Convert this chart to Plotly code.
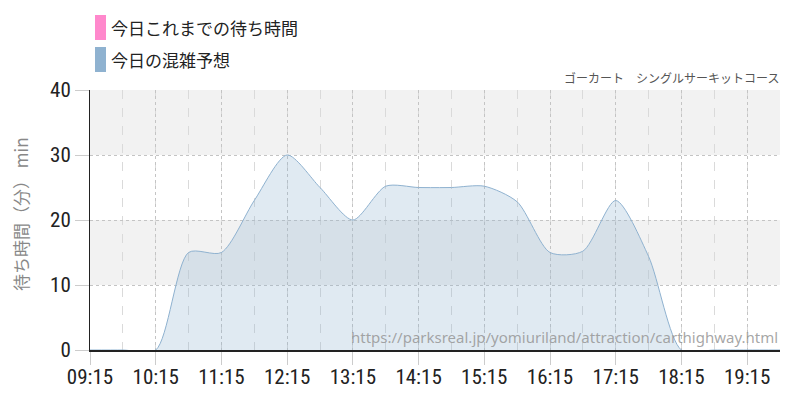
import plotly.graph_objects as go

# ---- data ----
times = ["09:15", "09:45", "10:15", "10:45", "11:15", "11:45", "12:15", "12:45",
         "13:15", "13:45", "14:15", "14:45", "15:15", "15:45", "16:15", "16:45",
         "17:15", "17:45", "18:15", "18:45", "19:15", "19:45"]
forecast = [0, 0, 0, 15, 15, 23, 30, 25, 20, 25.2, 25, 25, 25.2, 22.8, 15, 15.2,
            23, 14.4, 0, 0, 0, 0]
actual_times = []
actual = []
tick_labels = ["09:15", "10:15", "11:15", "12:15", "13:15", "14:15", "15:15",
               "16:15", "17:15", "18:15", "19:15"]
y_ticks = [0, 10, 20, 30, 40]
legend_names = ["今日これまでの待ち時間", "今日の混雑予想"]
title_text = "ゴーカート　シングルサーキットコース"
y_title = "待ち時間（分） min"
url_text = "https://parksreal.jp/yomiuriland/attraction/carthighway.html"

DAY = "2024-01-01 "
x_fc = [DAY + t for t in times]
x_act = [DAY + t for t in actual_times]
tickvals = [DAY + t for t in tick_labels]

PINK = "#FF88CC"
BLUE = "#8FB2D0"
TICKFONT = "Roboto Condensed, Liberation Sans Narrow, DejaVu Sans Condensed, Roboto, sans-serif"
CJK = "Noto Sans CJK JP, Noto Sans, sans-serif"

L, R, T, B = 90, 20, 90, 50
W, H = 800, 400
pw, ph = W - L - R, H - T - B


def px_x(px):
    return (px - L) / pw


def px_y(py):
    return (H - B - py) / ph


fig = go.Figure()
fig.add_trace(go.Scatter(
    x=x_fc, y=forecast, mode="lines", name=legend_names[1],
    line=dict(color=BLUE, width=1, shape="spline", smoothing=0.75),
    fill="tozeroy", fillcolor="rgba(143,178,208,0.28)", showlegend=False,
    hoverinfo="x+y", cliponaxis=False))
fig.add_trace(go.Scatter(
    x=x_act, y=actual, mode="lines", name=legend_names[0],
    line=dict(color=PINK, width=2, shape="spline"), showlegend=False))

# alternating bands
for y0, y1 in [(10, 20), (30, 40)]:
    fig.add_shape(type="rect", xref="paper", yref="y", x0=0, x1=1, y0=y0, y1=y1,
                  fillcolor="#F2F2F2", line=dict(width=0), layer="below")

# custom legend
legend_items = [(legend_names[0], PINK, 15, 40), (legend_names[1], BLUE, 47, 72)]
for name, col, ytop, ybot in legend_items:
    fig.add_shape(type="rect", xref="paper", yref="paper",
                  x0=px_x(95), x1=px_x(106), y0=px_y(ybot), y1=px_y(ytop),
                  fillcolor=col, line=dict(width=0))
    fig.add_annotation(xref="paper", yref="paper", x=px_x(109), y=px_y((ytop + ybot) / 2),
                       text=name, showarrow=False, xanchor="left", yanchor="middle",
                       font=dict(family=CJK, size=17, color="#222"))

fig.add_annotation(xref="paper", yref="paper", x=px_x(781), y=px_y(78), text=title_text,
                   showarrow=False, xanchor="right", yanchor="middle",
                   font=dict(family=CJK, size=12, color="#555"))
fig.add_annotation(xref="paper", yref="paper", x=px_x(780), y=px_y(337), text=url_text,
                   showarrow=False, xanchor="right", yanchor="middle",
                   font=dict(family="Noto Sans, sans-serif", size=15, color="rgba(150,150,150,0.85)"))
fig.add_annotation(xref="paper", yref="paper", x=px_x(20), y=px_y(214), text=y_title,
                   showarrow=False, xanchor="center", yanchor="middle", textangle=-90,
                   font=dict(family=CJK, size=17, color="#888"))

fig.update_layout(
    width=W, height=H,
    margin=dict(l=L, r=R, t=T, b=B, autoexpand=False),
    paper_bgcolor="white", plot_bgcolor="white",
    xaxis=dict(
        type="date", range=[DAY + "09:15", DAY + "19:45"],
        tickvals=tickvals, ticktext=tick_labels,
        showgrid=True, gridcolor="#C4C4C4", griddash="dot", gridwidth=1,
        minor=dict(dtick=30 * 60 * 1000, tick0=DAY + "09:45", showgrid=True,
                   gridcolor="#DADADA", griddash="dash", ticks=""),
        ticks="outside", ticklen=13, tickcolor="#CCCCCC",
        showline=True, linecolor="#222", linewidth=1.5,
        tickfont=dict(family=TICKFONT, size=21, color="#222"),
        ticklabelstandoff=-6,
        zeroline=False, fixedrange=True, automargin=False),
    yaxis=dict(
        range=[0, 40], tickvals=y_ticks,
        showgrid=True, gridcolor="#C4C4C4", griddash="dot", gridwidth=1,
        ticks="outside", ticklen=14, tickcolor="#CCCCCC",
        showline=True, linecolor="#222", linewidth=1,
        tickfont=dict(family=TICKFONT, size=21, color="#222"),
        zeroline=False, fixedrange=True, automargin=False),
)

fig.write_html("out.html", post_script="document.body.style.margin='0';",
               config={"displayModeBar": False})
